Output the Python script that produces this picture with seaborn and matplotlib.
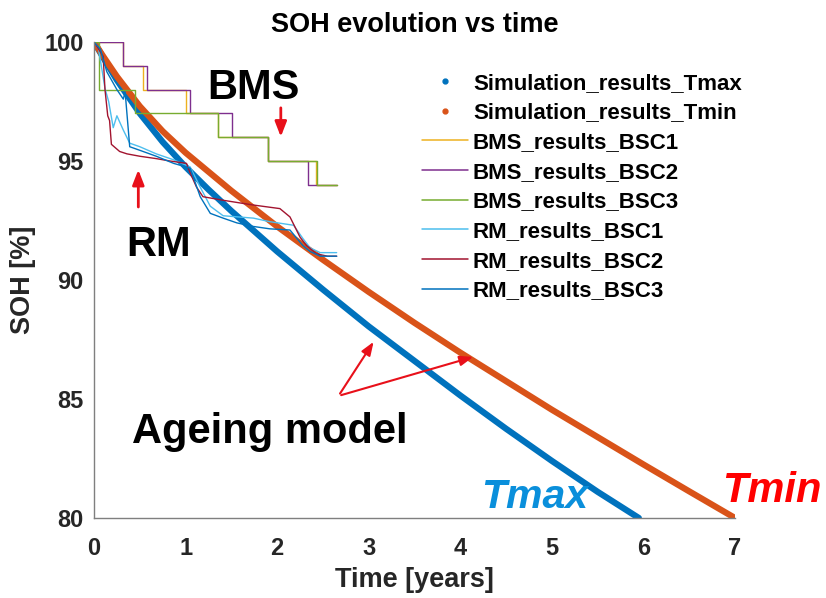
import matplotlib
matplotlib.use("Agg")
import matplotlib.pyplot as plt
from matplotlib.lines import Line2D
import seaborn as sns
import pandas as pd

# ageing model (simulation)
t_tmax = [0, 0.1, 0.25, 0.5, 0.75, 1, 1.25, 1.5, 1.75, 2, 2.5, 3, 3.5, 4, 4.5, 5, 5.5, 5.95]
soh_tmax = [100, 99.35, 98.4, 97.0, 95.8, 94.75, 93.8, 92.9, 92.05, 91.2, 89.6, 88.05, 86.6, 85.15,
            83.75, 82.4, 81.1, 80.0]
t_tmin = [0, 0.1, 0.25, 0.5, 0.75, 1, 1.5, 2, 2.5, 3, 3.5, 4, 4.5, 5, 5.5, 6, 6.5, 7]
soh_tmin = [100, 99.4, 98.55, 97.3, 96.25, 95.35, 93.75, 92.25, 90.85, 89.5, 88.2, 86.95, 85.75,
            84.55, 83.4, 82.25, 81.12, 80.0]

# BMS results (steps)
t_bms1 = [0, 0.32, 0.53, 1.01, 1.35, 1.9, 2.42, 2.65]
soh_bms1 = [100, 99, 98, 97, 96, 95, 94, 94]
t_bms2 = [0, 0.32, 0.575, 1.05, 1.51, 1.9, 2.34, 2.65]
soh_bms2 = [100, 99, 98, 97, 96, 95, 94, 94]
t_bms3 = [0, 0.06, 0.45, 1.35, 1.9, 2.43, 2.65]
soh_bms3 = [100, 98, 97, 96, 95, 94, 94]

# RM results
t_rm1 = [0, 0.05, 0.12, 0.16, 0.21, 0.25, 0.32, 0.39, 0.5, 0.68, 0.87, 1.05, 1.16, 1.27, 1.41,
         1.74, 1.92, 2.18, 2.28, 2.36, 2.47, 2.65]
soh_rm1 = [100, 99.7, 98.05, 97.5, 96.4, 96.9, 96.3, 95.75, 95.6, 95.3, 95.05, 94.75, 93.9, 93.1, 92.7,
           92.6, 92.45, 92.3, 91.75, 91.35, 91.15, 91.15]
t_rm2 = [0, 0.05, 0.1, 0.12, 0.15, 0.17, 0.19, 0.28, 0.36, 0.5, 0.68, 0.83, 1.01, 1.05, 1.12, 1.19,
         1.41, 1.74, 2.03, 2.14, 2.25, 2.32, 2.43, 2.55, 2.65]
soh_rm2 = [100, 99.7, 99.4, 98.0, 96.9, 96.7, 95.7, 95.4, 95.3, 95.2, 95.1, 95.0, 94.9, 94.5, 93.9, 93.5,
           93.35, 93.15, 93.0, 92.65, 91.8, 91.45, 91.1, 91.0, 91.0]
t_rm3 = [0, 0.07, 0.14, 0.25, 0.32, 0.34, 0.39, 0.5, 0.68, 0.87, 1.05, 1.16, 1.27, 1.41, 1.56, 1.74,
         1.92, 2.14, 2.28, 2.36, 2.47, 2.65]
soh_rm3 = [100, 99.7, 98.75, 98.0, 97.6, 97.9, 95.6, 95.45, 95.2, 94.9, 94.7, 93.5, 92.8, 92.6, 92.4, 92.25,
           92.15, 92.1, 91.45, 91.2, 91.0, 91.0]

sns.set_style("white")
plt.rcParams['font.family'] = ['Liberation Sans', 'DejaVu Sans']
plt.rcParams['text.color'] = 'black'

fig = plt.figure(figsize=(8.26, 5.98), dpi=100)
ax = fig.add_axes([94/826, 1-518/598, 641/826, 476/598])

series = [
    ('Simulation_results_Tmax', t_tmax, soh_tmax, '#0072BD', 4.5, None),
    ('Simulation_results_Tmin', t_tmin, soh_tmin, '#D95319', 4.5, None),
    ('BMS_results_BSC1', t_bms1, soh_bms1, '#EDB120', 1.0, 'steps-post'),
    ('BMS_results_BSC2', t_bms2, soh_bms2, '#7E2F8E', 1.0, 'steps-post'),
    ('BMS_results_BSC3', t_bms3, soh_bms3, '#77AC30', 1.0, 'steps-post'),
    ('RM_results_BSC1', t_rm1, soh_rm1, '#4DBEEE', 1.0, None),
    ('RM_results_BSC2', t_rm2, soh_rm2, '#A2142F', 1.0, None),
    ('RM_results_BSC3', t_rm3, soh_rm3, '#0072BD', 1.0, None),
]
handles = []
for name, t, s, c, lw, ds in series:
    df = pd.DataFrame({'t': t, 'soh': s})
    kw = {}
    if ds:
        kw['drawstyle'] = ds
    sns.lineplot(data=df, x='t', y='soh', ax=ax, color=c, linewidth=lw,
                 estimator=None, sort=False, **kw)
    if lw > 2:
        handles.append(Line2D([], [], color=c, marker='o', markersize=3.5, linestyle='none', label=name))
    else:
        handles.append(Line2D([], [], color=c, linewidth=1.1, label=name))

ax.set_xlim(0, 7)
ax.set_ylim(80, 100)
ax.set_xticks(range(0, 8))
ax.set_yticks([80, 85, 90, 95, 100])
for sp in ['top', 'right']:
    ax.spines[sp].set_visible(False)
for sp in ['left', 'bottom']:
    ax.spines[sp].set_color('#7f7f7f')
    ax.spines[sp].set_linewidth(1.0)
ax.tick_params(direction='in', length=5, width=0.8, color='#262626', labelsize=17, labelcolor='#262626')
ax.tick_params(axis='x', pad=14)
ax.tick_params(axis='y', pad=7.5)
for lab in ax.get_xticklabels() + ax.get_yticklabels():
    lab.set_fontweight('bold')
ax.set_xlabel('Time [years]', fontsize=19.5, fontweight='bold', color='#262626', labelpad=5)
ax.set_ylabel('SOH [%]', fontsize=19.5, fontweight='bold', color='#262626', labelpad=6)
ax.set_title('SOH evolution vs time', fontsize=19.5, fontweight='bold', pad=7)

leg = ax.legend(handles=handles, loc='upper left', bbox_to_anchor=(413/826, 1-64/598),
                bbox_transform=fig.transFigure, frameon=False,
                prop={'weight': 'bold', 'size': 16}, handlelength=2.07, handletextpad=0.23,
                labelspacing=0.39, borderaxespad=0)

# annotations
red = '#E8101A'
ax.text(1.74, 98.05, 'BMS', fontsize=30, fontweight='bold', ha='center', va='center')
ax.annotate('', xy=(2.04, 95.9), xytext=(2.04, 97.35),
            arrowprops=dict(arrowstyle='-|>,head_width=0.35,head_length=0.9', color=red, lw=2))
ax.annotate('', xy=(0.484, 94.75), xytext=(0.484, 92.95),
            arrowprops=dict(arrowstyle='-|>,head_width=0.35,head_length=0.9', color=red, lw=2))
ax.text(0.70, 91.45, 'RM', fontsize=30, fontweight='bold', ha='center', va='center')
ax.annotate('', xy=(3.07, 87.5), xytext=(2.67, 85.13),
            arrowprops=dict(arrowstyle='-|>,head_width=0.3,head_length=0.8', color=red, lw=1.5))
ax.annotate('', xy=(4.17, 86.8), xytext=(2.67, 85.13),
            arrowprops=dict(arrowstyle='-|>,head_width=0.3,head_length=0.8', color=red, lw=1.5))
ax.text(1.92, 83.6, 'Ageing model', fontsize=30, fontweight='bold', ha='center', va='center')
ax.text(4.81, 80.88, 'Tmax', fontsize=29.5, fontweight='bold', fontstyle='italic', color='#0A8FDB',
        ha='center', va='center')
ax.text(7.4, 81.15, 'Tmin', fontsize=30, fontweight='bold', fontstyle='italic', color='#FF0000',
        ha='center', va='center', clip_on=False)

fig.savefig('out.png', dpi=100)
